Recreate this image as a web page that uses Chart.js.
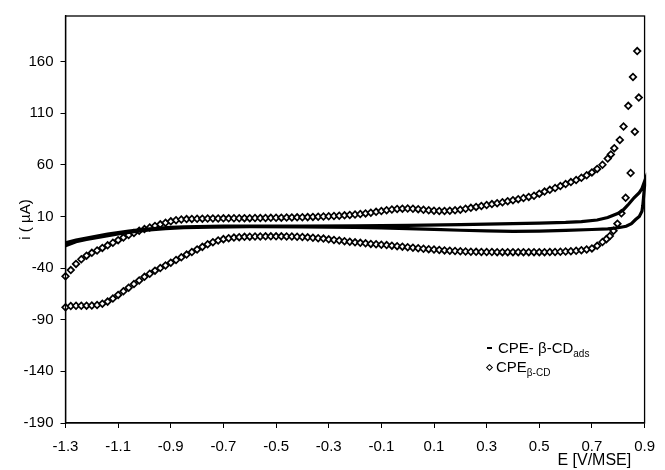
<!DOCTYPE html>
<html>
<head>
<meta charset="utf-8">
<script src="https://cdn.jsdelivr.net/npm/chart.js@4.4.1/dist/chart.umd.min.js"></script>
<style>
body{margin:0;background:#fff;}
#wrap{position:relative;width:665px;height:470px;}
.leg{position:absolute;font-family:"Liberation Sans",Arial,sans-serif;font-size:15px;line-height:17px;color:#000;white-space:nowrap;}
.leg sub{font-size:10px;vertical-align:-4px;line-height:0;}
.dash{position:absolute;width:5px;height:2px;background:#000;}
.dia{position:absolute;width:3px;height:3px;border:1.6px solid #000;transform:rotate(45deg);background:#fff;}
</style>
</head>
<body>
<div id="wrap">
<canvas id="cv" width="665" height="470"></canvas>
<div class="dash" style="left:487px;top:347px;"></div>
<div class="leg" style="left:498px;top:339px;">CPE- β-CD<sub>ads</sub></div>
<div class="dia" style="left:487px;top:365px;"></div>
<div class="leg" style="left:496px;top:358px;">CPE<sub>β-CD</sub></div>
</div>
<script>
// tick positions
const xTicks = [-1.3,-1.1,-0.9,-0.7,-0.5,-0.3,-0.1,0.1,0.3,0.5,0.7,0.9];
const yTicks = [-190,-140,-90,-40,10,60,110,160];

// CPE beta-CD (diamonds), potential grid shared by both branches
const eGrid = [
 -1.30,-1.28,-1.26,-1.24,-1.22,-1.20,-1.18,-1.16,-1.14,-1.12,
 -1.10,-1.08,-1.06,-1.04,-1.02,-1.00,-0.98,-0.96,-0.94,-0.92,
 -0.90,-0.88,-0.86,-0.84,-0.82,-0.80,-0.78,-0.76,-0.74,-0.72,
 -0.70,-0.68,-0.66,-0.64,-0.62,-0.60,-0.58,-0.56,-0.54,-0.52,
 -0.50,-0.48,-0.46,-0.44,-0.42,-0.40,-0.38,-0.36,-0.34,-0.32,
 -0.30,-0.28,-0.26,-0.24,-0.22,-0.20,-0.18,-0.16,-0.14,-0.12,
 -0.10,-0.08,-0.06,-0.04,-0.02,0.00,0.02,0.04,0.06,0.08,
 0.10,0.12,0.14,0.16,0.18,0.20,0.22,0.24,0.26,0.28,
 0.30,0.32,0.34,0.36,0.38,0.40,0.42,0.44,0.46,0.48,
 0.50,0.52,0.54,0.56,0.58,0.60,0.62,0.64,0.66,0.68,
 0.70,0.72,0.74];
const iCdAnodic = [
 -48,-42,-36,-31.5,-28,-25.3,-23,-20.5,-18,-15.5,
 -13,-10.5,-8,-6,-4,-2.3,-0.8,0.8,2.3,3.8,
 5.2,6.3,7.0,7.4,7.6,7.7,7.8,7.9,8.0,8.0,
 8.1,8.1,8.2,8.2,8.3,8.3,8.4,8.4,8.5,8.6,
 8.7,8.8,8.9,9.0,9.1,9.2,9.3,9.5,9.7,9.9,
 10.1,10.4,10.7,11.0,11.4,11.8,12.3,12.9,13.6,14.4,
 15.2,16.0,16.7,17.2,17.5,17.6,17.4,17.0,16.4,15.9,
 15.5,15.3,15.3,15.5,15.9,16.5,17.4,18.3,19.2,20.1,
 21.0,21.9,22.8,23.7,24.7,25.7,26.7,27.8,28.9,30.0,
 32,34,35.7,37.5,39.4,41.3,43.2,45.2,47.4,49.8,
 52.6,56,60];
const iCdCathodic = [
 -78,-76.8,-76.5,-76.5,-76.4,-76.3,-75.8,-74.5,-72.5,-69.5,
 -66,-62.5,-59,-55.5,-52,-48.5,-45.5,-42.5,-40,-37.5,
 -34.8,-32.2,-29.6,-27,-24.5,-22,-19.5,-17,-15,-13.3,
 -12,-11.1,-10.5,-10.1,-9.8,-9.6,-9.5,-9.4,-9.3,-9.3,
 -9.3,-9.3,-9.4,-9.5,-9.7,-10.0,-10.3,-10.7,-11.1,-11.5,
 -12.2,-12.8,-13.4,-14.0,-14.6,-15.1,-15.6,-16.1,-16.6,-17.0,
 -17.4,-17.8,-18.3,-18.8,-19.3,-19.8,-20.3,-20.8,-21.3,-21.7,
 -22.1,-22.5,-22.9,-23.2,-23.5,-23.8,-24.0,-24.2,-24.3,-24.4,
 -24.5,-24.5,-24.6,-24.6,-24.6,-24.6,-24.6,-24.6,-24.6,-24.6,
 -24.6,-24.6,-24.5,-24.4,-24.2,-24.0,-23.7,-23.3,-22.7,-22.0,
 -21.0,-18.5,-14.8];
// points around the switching potential
const eCdVertex = [0.76,0.772,0.785,0.806,0.820,0.838,0.856,0.872,0.878,0.863,0.847,0.828,0.812,0.797,0.782,0.768,0.755];
const iCdVertex = [66,70,76,84,97,117,145,170,125,92,52,28,13,3,-4,-9,-12];

// CPE- beta-CD ads (dense dashes, forward then reverse scan)
const eAds = [
 -1.30,-1.26,-1.22,-1.18,-1.14,-1.10,-1.06,-1.02,-0.98,-0.94,
 -0.90,-0.85,-0.80,-0.70,-0.60,-0.40,-0.20,0.00,0.20,0.35,
 0.50,0.60,0.66,0.72,0.76,0.80,0.82,0.84,0.86,0.88,0.89,0.90,
 0.90,0.896,0.893,0.89,0.88,0.866,0.85,0.83,0.80,0.76,
 0.70,0.60,0.50,0.40,0.30,0.20,0.10,0.00,-0.10,-0.20,
 -0.40,-0.60,-0.75,-0.85,-0.92,-0.98,-1.04,-1.10,-1.16,-1.22,-1.26,-1.30];
const iAds = [
 -15.5,-13,-11,-9,-7.2,-5.6,-4.2,-3,-2,-1.2,
 -0.6,-0.1,0.2,0.5,0.6,0.7,0.9,1.3,2,2.7,
 3.5,4.2,5,6.5,9,13,16.5,22,28,33,37,44,
 40,28,20,15,10,7,3,0.5,-1,-2,
 -2.7,-3.6,-4.2,-4.4,-4.1,-3.4,-2.6,-1.8,-1.1,-0.6,
 -0.1,0,-0.3,-0.9,-1.8,-3,-4.8,-7,-9.6,-12.4,-14.5,-18.5];

const pts = (xs, ys) => xs.map((x, k) => ({x: x, y: ys[k]}));
const cdData = pts(eGrid, iCdAnodic).concat(pts(eCdVertex, iCdVertex), pts(eGrid, iCdCathodic));
const adsData = pts(eAds, iAds);

const tickFont = {family: "'Liberation Sans', Arial, sans-serif", size: 15};

// box around the plot area
const frame = {
    id: 'frame',
    afterDraw(chart){
        const a = chart.chartArea, c = chart.ctx;
        c.save();
        c.strokeStyle = '#000';
        c.lineWidth = 1.3;
        c.strokeRect(a.left, a.top, a.right - a.left, a.bottom - a.top);
        c.restore();
    }
};

new Chart(document.getElementById('cv'), {
    type: 'scatter',
    data: {
        datasets: [
            {
                label: 'CPE- β-CDads',
                data: adsData,
                showLine: true,
                borderColor: '#000',
                borderWidth: 3.2,
                pointRadius: 0,
                tension: 0,
                clip: false
            },
            {
                label: 'CPEβ-CD',
                data: cdData,
                showLine: false,
                pointStyle: 'rectRot',
                pointRadius: 3.3,
                borderWidth: 1.7,
                borderColor: '#000',
                backgroundColor: '#fff',
                clip: false
            }
        ]
    },
    options: {
        responsive: false,
        animation: false,
        layout: {padding: {top: 13, right: 12.5, left: 0, bottom: 0}},
        plugins: {
            legend: {display: false},
            tooltip: {enabled: false}
        },
        scales: {
            x: {
                type: 'linear',
                min: -1.3,
                max: 0.9,
                afterBuildTicks: s => { s.ticks = xTicks.map(v => ({value: v})); },
                afterFit: s => { s.height = 47; },
                ticks: {color: '#000', font: tickFont, padding: 10, maxRotation: 0, autoSkip: false,
                    callback: v => v.toFixed(1)},
                grid: {drawOnChartArea: false, tickLength: 5, color: '#000'},
                border: {color: '#000', width: 1.3},
                title: {display: true, text: 'E [V/MSE]   ', align: 'end', color: '#000',
                    font: {family: "'Liberation Sans', Arial, sans-serif", size: 16},
                    padding: {top: 0, bottom: 0}}
            },
            y: {
                min: -190,
                max: 204,
                afterBuildTicks: s => { s.ticks = yTicks.map(v => ({value: v})); },
                afterFit: s => { s.width = 65.5; },
                ticks: {color: '#000', font: tickFont, padding: 7},
                grid: {drawOnChartArea: false, tickLength: 5, color: '#000'},
                border: {color: '#000', width: 1.3},
                title: {display: true, text: 'i ( µA)', color: '#000',
                    font: {family: "'Liberation Sans', Arial, sans-serif", size: 15},
                    padding: {top: 17, bottom: 0}}
            }
        }
    },
    plugins: [frame]
});
</script>
</body>
</html>
